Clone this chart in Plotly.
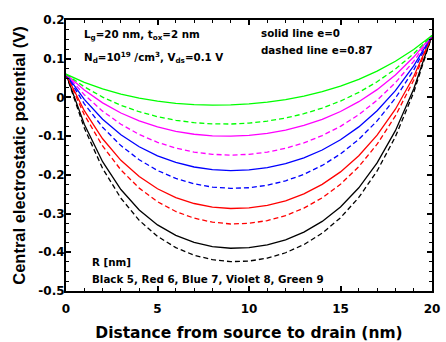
import plotly.graph_objects as go

# distance from source (nm)
x_nm = list(range(0, 21))

# central potential (V), solid: e=0, dashed: e=0.87
black_solid = [0.0600, -0.0694, -0.1661, -0.2379, -0.2908, -0.3292, -0.3563, -0.3745, -0.3853, -0.3896, -0.3882,
               -0.3811, -0.3679, -0.3480, -0.3202, -0.2828, -0.2334, -0.1691, -0.0859, 0.0216, 0.1600]
black_dashed = [0.0600, -0.0793, -0.1832, -0.2605, -0.3174, -0.3588, -0.3880, -0.4076, -0.4192, -0.4241, -0.4227,
                -0.4152, -0.4012, -0.3801, -0.3506, -0.3108, -0.2584, -0.1900, -0.1015, 0.0128, 0.1600]
red_solid = [0.0600, -0.0342, -0.1067, -0.1624, -0.2045, -0.2359, -0.2586, -0.2740, -0.2832, -0.2869, -0.2854,
             -0.2788, -0.2669, -0.2491, -0.2246, -0.1923, -0.1507, -0.0976, -0.0305, 0.0540, 0.1600]
red_dashed = [0.0600, -0.0447, -0.1254, -0.1873, -0.2343, -0.2693, -0.2946, -0.3118, -0.3222, -0.3269, -0.3251,
              -0.3181, -0.3052, -0.2859, -0.2593, -0.2242, -0.1788, -0.1209, -0.0477, 0.0444, 0.1600]
blue_solid = [0.0600, -0.0049, -0.0562, -0.0963, -0.1274, -0.1509, -0.1680, -0.1797, -0.1865, -0.1890, -0.1873,
              -0.1813, -0.1711, -0.1561, -0.1358, -0.1095, -0.0761, -0.0344, 0.0175, 0.0814, 0.1600]
blue_dashed = [0.0600, -0.0165, -0.0770, -0.1244, -0.1610, -0.1888, -0.2092, -0.2232, -0.2316, -0.2349, -0.2333,
               -0.2268, -0.2154, -0.1986, -0.1757, -0.1460, -0.1081, -0.0607, -0.0019, 0.0707, 0.1600]
violet_solid = [0.0600, 0.0189, -0.0141, -0.0402, -0.0606, -0.0762, -0.0875, -0.0951, -0.0993, -0.1002, -0.0981,
                -0.0929, -0.0844, -0.0724, -0.0565, -0.0363, -0.0110, 0.0201, 0.0581, 0.1043, 0.1600]
violet_dashed = [0.0600, 0.0071, -0.0354, -0.0692, -0.0957, -0.1160, -0.1310, -0.1411, -0.1470, -0.1490, -0.1470,
                 -0.1412, -0.1314, -0.1174, -0.0986, -0.0746, -0.0445, -0.0073, 0.0381, 0.0933, 0.1600]
green_solid = [0.0600, 0.0390, 0.0221, 0.0086, -0.0019, -0.0097, -0.0152, -0.0185, -0.0198, -0.0192, -0.0166,
               -0.0120, -0.0054, 0.0036, 0.0151, 0.0293, 0.0468, 0.0680, 0.0934, 0.1238, 0.1600]
green_dashed = [0.0600, 0.0274, 0.0009, -0.0203, -0.0370, -0.0498, -0.0590, -0.0651, -0.0683, -0.0687, -0.0663,
                -0.0612, -0.0532, -0.0421, -0.0276, -0.0094, 0.0131, 0.0405, 0.0734, 0.1129, 0.1600]

y_ticks = [0.2, 0.1, 0, -0.1, -0.2, -0.3, -0.4, -0.5]
y_ticktext = ["0.2", "0.1", "0", "-0.1", "-0.2", "-0.3", "-0.4", "-0.5"]

curves = [
    (black_solid, "black", "solid"), (black_dashed, "black", "dash"),
    (red_solid, "#ff0000", "solid"), (red_dashed, "#ff0000", "dash"),
    (blue_solid, "#0000ff", "solid"), (blue_dashed, "#0000ff", "dash"),
    (violet_solid, "#ff00ff", "solid"), (violet_dashed, "#ff00ff", "dash"),
    (green_solid, "#00ff00", "solid"), (green_dashed, "#00ff00", "dash"),
]

fig = go.Figure()
for ys, col, dash in curves:
    fig.add_trace(go.Scatter(
        x=x_nm, y=ys, mode="lines",
        line=dict(color=col, width=1.3, dash="5px,3px" if dash == "dash" else "solid"),
        showlegend=False,
    ))

fnt = "DejaVu Sans"
ann = dict(size=10.3, color="black", family=fnt, weight="bold")
texts = [
    (0.9, 0.161, "L<sub>g</sub>=20 nm, t<sub>ox</sub>=2 nm"),
    (0.9, 0.104, "N<sub>d</sub>=10<sup>19</sup> /cm<sup>3</sup>, V<sub>ds</sub>=0.1 V"),
    (10.55, 0.166, "solid line e=0"),
    (10.55, 0.122, "dashed line e=0.87"),
    (1.3, -0.425, "R [nm]"),
    (1.3, -0.468, "Black 5, Red 6, Blue 7, Violet 8, Green 9"),
]
for tx, ty, t in texts:
    fig.add_annotation(x=tx, y=ty, text=t, showarrow=False, xanchor="left", yanchor="middle", font=ann)

fig.update_xaxes(
    range=[0, 20], tickvals=[0, 5, 10, 15, 20],
    showline=True, linecolor="black", linewidth=2, mirror="ticks",
    ticks="inside", ticklen=5, tickwidth=1.5, tickcolor="black",
    minor=dict(dtick=1, ticks="inside", ticklen=3, tickwidth=1.2, tickcolor="black"),
    showgrid=False, zeroline=False, ticklabelstandoff=6,
    tickfont=dict(family=fnt, size=12, color="black", weight="bold"),
    title=dict(text="Distance from source to drain (nm)", standoff=14,
               font=dict(family=fnt, size=15.5, color="black", weight="bold")),
)
fig.update_yaxes(
    range=[-0.5, 0.2], tickvals=y_ticks, ticktext=y_ticktext,
    showline=True, linecolor="black", linewidth=2, mirror="ticks",
    ticks="inside", ticklen=5, tickwidth=1.5, tickcolor="black",
    minor=dict(dtick=0.025, ticks="inside", ticklen=3, tickwidth=1.2, tickcolor="black"),
    showgrid=False, zeroline=False, ticklabelstandoff=-3,
    tickfont=dict(family=fnt, size=12, color="black", weight="bold"),
    title=dict(text="Central electrostatic potential (V)", standoff=9,
               font=dict(family="Liberation Sans", size=16.5, color="black", weight="bold")),
)
fig.update_layout(
    width=446, height=342,
    margin=dict(l=66, r=14, t=20, b=51, autoexpand=False),
    paper_bgcolor="white", plot_bgcolor="white",
)

fig.write_html("out.html", config={"displayModeBar": False},
               post_script="document.body.style.margin='0';")
